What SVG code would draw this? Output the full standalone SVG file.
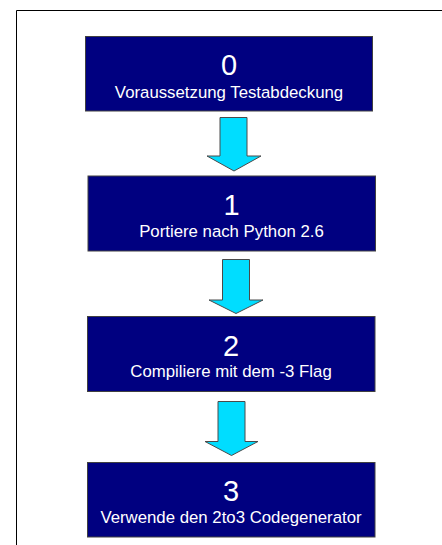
<svg xmlns="http://www.w3.org/2000/svg" width="442" height="545" viewBox="0 0 442 545">
<style>
.box{fill:#000080;stroke:#404040;stroke-width:1}
.arrow{fill:#00DDFF;stroke:#4a4a4a;stroke-width:1}
.num{font-family:"Liberation Sans",Arial,sans-serif;font-size:29px;fill:#fff;text-anchor:middle}
.lbl{font-family:"Liberation Sans",Arial,sans-serif;font-size:16.8px;fill:#fff;text-anchor:middle}
</style>
<rect x="0" y="0" width="442" height="545" fill="#fff"/>
<path d="M16.5 545 V10.5 H442" fill="none" stroke="#000" stroke-width="1"/>
<g id="connectors">
<path class="arrow" d="M220 117.5 H247 V156 H261 L234 171 L207 156 H220 Z"/>
<path class="arrow" d="M222.5 259.5 H249.5 V300 H263 L236 313.5 L209 300 H222.5 Z"/>
<path class="arrow" d="M218 401.5 H245 V441.5 H258 L231.5 455.5 L205 441.5 H218 Z"/>
</g>
<g id="node0">
<rect class="box" x="85.5" y="36.5" width="287" height="74.5"/>
<text class="num" x="229" y="75">0</text>
<text class="lbl" x="229" y="97.5">Voraussetzung Testabdeckung</text>
</g>
<g id="node1">
<rect class="box" x="88" y="176" width="287.5" height="75"/>
<text class="num" x="231.5" y="215">1</text>
<text class="lbl" x="231.5" y="236.5">Portiere nach Python 2.6</text>
</g>
<g id="node2">
<rect class="box" x="87.5" y="316.5" width="287.5" height="75"/>
<text class="num" x="231" y="355.5">2</text>
<text class="lbl" x="231" y="377">Compiliere mit dem -3 Flag</text>
</g>
<g id="node3">
<rect class="box" x="87.5" y="462.5" width="287.5" height="74.5"/>
<text class="num" x="231" y="501">3</text>
<text class="lbl" x="231" y="523">Verwende den 2to3 Codegenerator</text>
</g>
</svg>
